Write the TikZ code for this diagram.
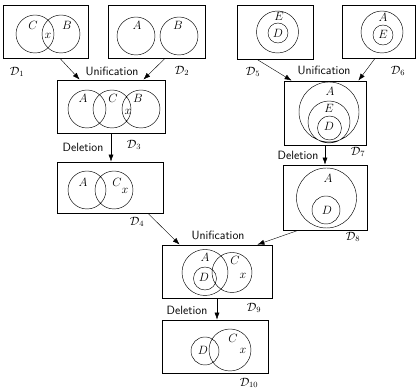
\documentclass[tikz,border=0pt]{standalone}
\usepackage{amsmath,amsfonts}
\usetikzlibrary{calc,arrows.meta}
\newcommand{\dom}[1]{$\mathcal{D}_{#1}$}
\tikzset{
  box/.style={draw,rectangle,line width=0.8pt,inner sep=0pt},
  venn/.style={line width=0.45pt},
  lab/.style={inner sep=0.5pt,font=\large},
  op/.style={inner sep=1pt,font=\sffamily\large},
  conn/.style={-{Latex[length=7pt,width=5pt]},line width=0.4pt}
}
\begin{document}
\begin{tikzpicture}[x=1pt,y=-1pt]
\useasboundingbox (0,0) rectangle (416,390);
% the ten boxes
\node[box,minimum width=85pt,minimum height=53pt] (D1) at (45.5,31.5) {};
\node[box,minimum width=97pt,minimum height=53pt] (D2) at (156.5,31.5) {};
\node[box,minimum width=76pt,minimum height=54pt] (D5) at (275,32) {};
\node[box,minimum width=73pt,minimum height=53pt] (D6) at (378.5,31.5) {};
\node[box,minimum width=108pt,minimum height=53pt] (D3) at (111,106.5) {};
\node[box,minimum width=106pt,minimum height=51pt] (D4) at (110,187.5) {};
\node[box,minimum width=82pt,minimum height=64pt] (D7) at (325,113) {};
\node[box,minimum width=84pt,minimum height=65pt] (D8) at (325,197.5) {};
\node[box,minimum width=110pt,minimum height=53pt] (D9) at (217,271.5) {};
\node[box,minimum width=106pt,minimum height=53pt] (D10) at (215,346.5) {};
% D1
\draw[venn] (35,34) circle (19pt) (61,34) circle (19pt);
\node[lab] (C1) at (33,25) {$C$};
\node[lab] (B1) at (67,25) {$B$};
\node[lab] (X1) at (48,36) {$x$};
% D2
\draw[venn] (136,36) circle (19pt) (179,36) circle (19pt);
\node[lab] (A2) at (137,25) {$A$};
\node[lab] (B2) at (178,25) {$B$};
% D5
\draw[venn] (277.5,32) circle (21pt) (278,33) circle (10pt);
\node[lab] (E5) at (279,16) {$E$};
\node[lab] (I5) at (278,33) {$D$};
% D6
\draw[venn] (382,32) circle (21pt) (383,35) circle (10pt);
\node[lab] (A6) at (383,17) {$A$};
\node[lab] (E6) at (383,34) {$E$};
% D3
\draw[venn] (87,109) circle (19pt) (112,109) circle (19pt) (141,109) circle (19pt);
\node[lab] (A3) at (83,98) {$A$};
\node[lab] (C3) at (113,98) {$C$};
\node[lab] (B3) at (138,98) {$B$};
\node[lab] (X3) at (128,112) {$x$};
% D4
\draw[venn] (87,190) circle (19pt) (114,190) circle (19pt);
\node[lab] (A4) at (83,182) {$A$};
\node[lab] (C4) at (117,182) {$C$};
\node[lab] (X4) at (125,191) {$x$};
% D7
\draw[venn] (329,112) circle (30pt) (329,122) circle (21pt) (329.5,128) circle (12pt);
\node[lab] (A7) at (330,91) {$A$};
\node[lab] (E7) at (329,108) {$E$};
\node[lab] (I7) at (329,126) {$D$};
% D8
\draw[venn] (326.5,198) circle (30pt) (326,210) circle (14pt);
\node[lab] (A8) at (328,178) {$A$};
\node[lab] (I8) at (327,210) {$D$};
% D9
\draw[venn] (205,272.5) circle (23pt) (232,272.5) circle (20pt) (205,278.5) circle (11.5pt);
\node[lab] (A9) at (205,257) {$A$};
\node[lab] (C9) at (235,260) {$C$};
\node[lab] (I9) at (204,277) {$D$};
\node[lab] (X9) at (243,276) {$x$};
% D10
\draw[venn] (205,351) circle (14pt) (230,350) circle (21pt);
\node[lab] (I10) at (203,350) {$D$};
\node[lab] (C10) at (233,338) {$C$};
\node[lab] (X10) at (243,351) {$x$};
% names of the boxes
\node[lab] (L1) at (17,72) {\dom{1}};
\node[lab] (L2) at (182,71) {\dom{2}};
\node[lab] (L3) at (134,145) {\dom{3}};
\node[lab] (L4) at (137,222) {\dom{4}};
\node[lab] (L5) at (253,72) {\dom{5}};
\node[lab] (L6) at (398,71) {\dom{6}};
\node[lab] (L7) at (358,152) {\dom{7}};
\node[lab] (L8) at (353,237) {\dom{8}};
\node[lab] (L9) at (254,308) {\dom{9}};
\node[lab] (L10) at (249,383) {\dom{10}};
% operations
\node[op] (U1) at (112,71) {Unification};
\node[op] (U2) at (324,70) {Unification};
\node[op] (U3) at (218,235) {Unification};
\node[op] (R1) at (83,147) {Deletion};
\node[op] (R2) at (298,155) {Deletion};
\node[op] (R3) at (187,310) {Deletion};
% connectors
\draw[conn] ($(D1.south)+(14.5,0)$) -- ($(D3.north west)+(23,0)$);
\draw[conn] ($(D2.south)+(8.5,0)$) -- ($(D3.north east)+(-22,0)$);
\draw[conn] ($(D5.south)+(-18,0)$) -- ($(D7.north west)+(8,0)$);
\draw[conn] ($(D6.south)+(-3.5,0)$) -- ($(D7.north east)+(-8,0)$);
\draw[conn] (D3.south) -- (D3.south |- D4.north);
\draw[conn] (D7.south) -- (D8.north);
\draw[conn] ($(D4.south)+(38,0)$) -- ($(D9.north west)+(18,0)$);
\draw[conn] ($(D8.south)+(-27,0)$) -- ($(D9.north east)+(-15,0)$);
\draw[conn] (D9.south) -- (D9.south |- D10.north);
\end{tikzpicture}
\end{document}
